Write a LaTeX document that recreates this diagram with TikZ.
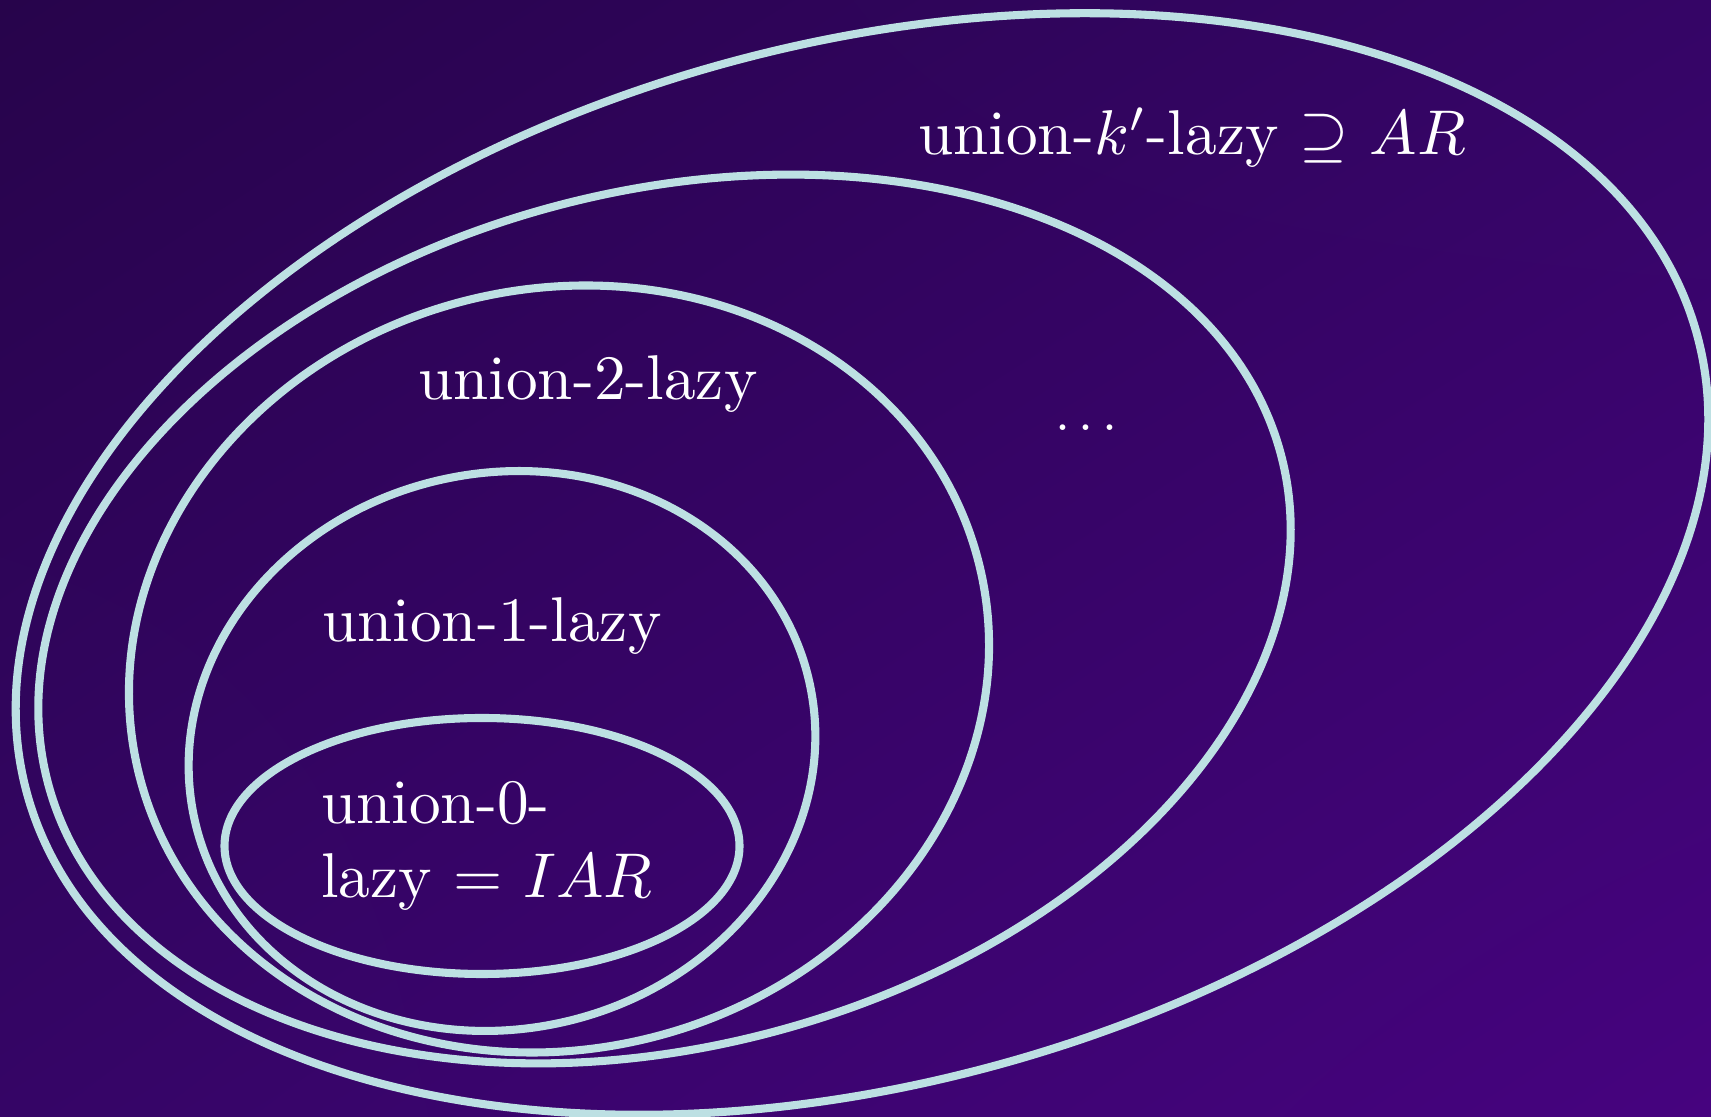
\documentclass[tikz,border=0pt]{standalone}
\usepackage{amsmath,amssymb}
\usepackage{tikz}
\usetikzlibrary{shadings}
\definecolor{bgdark}{HTML}{27044B}
\definecolor{bgmid}{HTML}{350566}
\definecolor{bglight}{HTML}{46037F}
\definecolor{ringcol}{HTML}{BDE0E3}

\begin{document}
\begin{tikzpicture}[every node/.style={font=\fontsize{10}{11.85}\selectfont, text=white, inner sep=0pt, scale=1.8}, ring/.style={draw=ringcol, line width=2.3pt}]
	\useasboundingbox (0,0) rectangle (17.11,11.17);
	\shade[upper left=bgdark, upper right=bgmid, lower left=bgmid, lower right=bglight] (0,0) rectangle (17.11,11.17);
	\draw[ring, shift={(8.62,5.53)}, rotate=15.4] (0,0) ellipse [x radius=8.66, y radius=5.19];
	\draw[ring, shift={(6.645,4.98)}, rotate=15] (0,0) ellipse [x radius=6.38, y radius=4.27];
	\draw[ring, shift={(5.59,4.48)}, rotate=14.25] (0,0) ellipse [x radius=4.33, y radius=3.80];
	\draw[ring, shift={(5.02,3.66)}, rotate=12.7] (0,0) ellipse [x radius=3.15, y radius=2.78];
	\draw[ring] (4.82,2.71) ellipse [x radius=2.575, y radius=1.28];
	\node[anchor=base west] (kl) at (9.17,9.62) {union-$k'$-lazy $\supseteq$ $AR$};
	\node[anchor=base west] (l2) at (4.17,7.17) {union-2-lazy};
	\node[anchor=base, scale=0.85] (dots) at (10.91,6.86) {$\dots$};
	\node[anchor=base west] (l1) at (3.21,4.75) {union-1-lazy};
	\node[anchor=base west, align=left] (l0) at (3.20,2.19) {union-0-\\lazy $=$ $IAR$};
\end{tikzpicture}
\end{document}
